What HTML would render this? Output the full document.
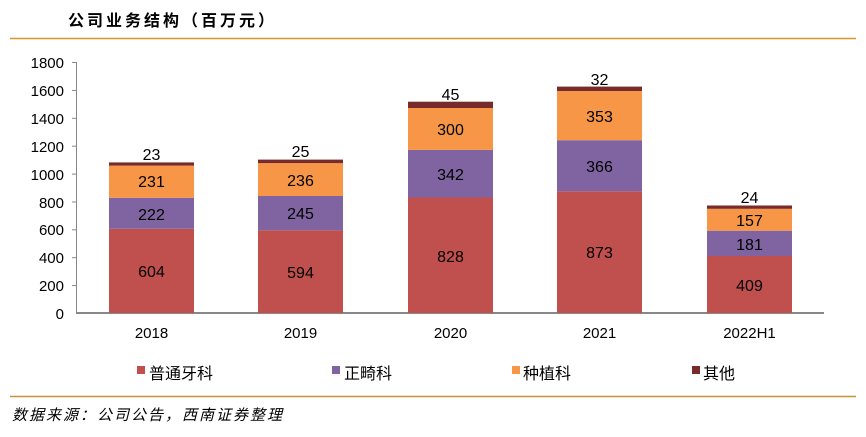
<!DOCTYPE html>
<html><head><meta charset="utf-8"><style>
body{margin:0;background:#fff;}
svg{display:block;}
.n{font-family:"Liberation Sans",sans-serif;font-size:16px;fill:#000;}
.t{font-family:"Liberation Sans",sans-serif;font-size:15px;fill:#000;}
.c{font-family:"Liberation Sans","Noto Sans CJK SC",sans-serif;fill:#000;}
</style></head><body>
<svg width="866" height="437" viewBox="0 0 866 437" xmlns="http://www.w3.org/2000/svg">
<text x="68" y="26" class="c" style="font-size:16px;font-weight:bold;letter-spacing:3px">公司业务结构（百万元）</text>
<line x1="10" y1="38.5" x2="856" y2="38.5" stroke="#D9962F" stroke-width="1.5"/>
<g stroke="#888" stroke-width="1">
<line x1="76.5" y1="62" x2="76.5" y2="313"/>
<line x1="76" y1="313" x2="824" y2="313" stroke-width="2"/>
<line x1="72" y1="62.5" x2="76" y2="62.5"/>
<line x1="72" y1="90.4" x2="76" y2="90.4"/>
<line x1="72" y1="118.3" x2="76" y2="118.3"/>
<line x1="72" y1="146.2" x2="76" y2="146.2"/>
<line x1="72" y1="174.1" x2="76" y2="174.1"/>
<line x1="72" y1="202" x2="76" y2="202"/>
<line x1="72" y1="229.8" x2="76" y2="229.8"/>
<line x1="72" y1="257.7" x2="76" y2="257.7"/>
<line x1="72" y1="285.6" x2="76" y2="285.6"/>
</g>
<g class="t" text-anchor="end">
<text x="64" y="68">1800</text><text x="64" y="96">1600</text><text x="64" y="124">1400</text>
<text x="64" y="152">1200</text><text x="64" y="180">1000</text><text x="64" y="208">800</text>
<text x="64" y="235">600</text><text x="64" y="263">400</text><text x="64" y="291">200</text>
<text x="64" y="319">0</text>
</g>
<g>
<rect x="109" y="228.8" width="85" height="84.2" fill="#C0504D"/>
<rect x="109" y="197.8" width="85" height="31" fill="#8064A2"/>
<rect x="109" y="165.6" width="85" height="32.2" fill="#F79646"/>
<rect x="109" y="162.4" width="85" height="3.2" fill="#772B2A"/>

<rect x="258" y="230.2" width="85" height="82.8" fill="#C0504D"/>
<rect x="258" y="196" width="85" height="34.2" fill="#8064A2"/>
<rect x="258" y="163.1" width="85" height="32.9" fill="#F79646"/>
<rect x="258" y="159.6" width="85" height="3.5" fill="#772B2A"/>

<rect x="408" y="197.5" width="85" height="115.5" fill="#C0504D"/>
<rect x="408" y="149.9" width="85" height="47.6" fill="#8064A2"/>
<rect x="408" y="108" width="85" height="41.9" fill="#F79646"/>
<rect x="408" y="101.7" width="85" height="6.3" fill="#772B2A"/>

<rect x="557" y="191.3" width="85" height="121.7" fill="#C0504D"/>
<rect x="557" y="140.2" width="85" height="51.1" fill="#8064A2"/>
<rect x="557" y="91" width="85" height="49.2" fill="#F79646"/>
<rect x="557" y="86.6" width="85" height="4.4" fill="#772B2A"/>

<rect x="707" y="256" width="85" height="57" fill="#C0504D"/>
<rect x="707" y="230.7" width="85" height="25.3" fill="#8064A2"/>
<rect x="707" y="208.8" width="85" height="21.9" fill="#F79646"/>
<rect x="707" y="205.5" width="85" height="3.3" fill="#772B2A"/>
</g>
<g class="n" text-anchor="middle">
<text x="151.5" y="277">604</text><text x="151.5" y="220">222</text><text x="151.5" y="187">231</text><text x="151.5" y="160">23</text>
<text x="300.5" y="278">594</text><text x="300.5" y="219">245</text><text x="300.5" y="186">236</text><text x="300.5" y="157">25</text>
<text x="450.5" y="262">828</text><text x="450.5" y="180">342</text><text x="450.5" y="135">300</text><text x="450.5" y="100">45</text>
<text x="599.5" y="258">873</text><text x="599.5" y="172">366</text><text x="599.5" y="122">353</text><text x="599.5" y="85">32</text>
<text x="749.5" y="291">409</text><text x="749.5" y="250">181</text><text x="749.5" y="226">157</text><text x="749.5" y="203">24</text>
</g>
<g class="t" text-anchor="middle">
<text x="151.5" y="338">2018</text><text x="300.5" y="338">2019</text><text x="450.5" y="338">2020</text>
<text x="599.5" y="338">2021</text><text x="749.5" y="338">2022H1</text>
</g>
<rect x="137" y="366" width="8" height="8" fill="#C0504D"/>
<text x="149" y="379" class="c" style="font-size:16px">普通牙科</text>
<rect x="332" y="366" width="8" height="8" fill="#8064A2"/>
<text x="344" y="379" class="c" style="font-size:16px">正畸科</text>
<rect x="512" y="366" width="8" height="8" fill="#F79646"/>
<text x="523" y="379" class="c" style="font-size:16px">种植科</text>
<rect x="692" y="366" width="8" height="8" fill="#772B2A"/>
<text x="703" y="379" class="c" style="font-size:16px">其他</text>
<line x1="10" y1="396.5" x2="856" y2="396.5" stroke="#C8913E" stroke-width="1.5"/>
<text x="12" y="420" class="c" style="font-size:15px;font-style:italic;letter-spacing:2px">数据来源：公司公告，西南证券整理</text>
</svg>
</body></html>
